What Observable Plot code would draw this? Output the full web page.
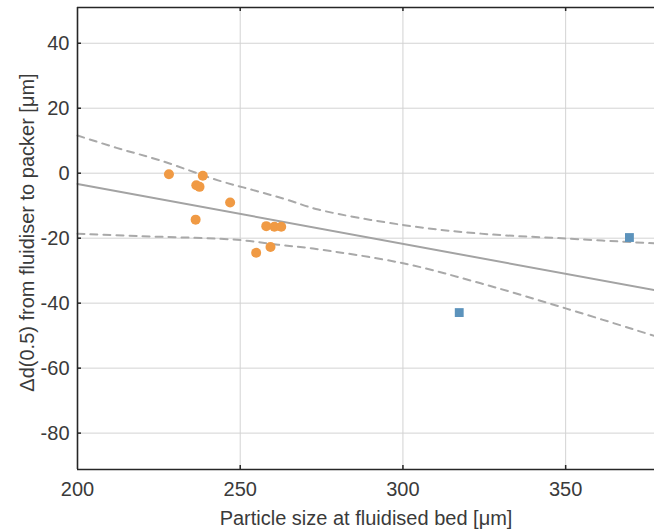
<!DOCTYPE html>
<html>
<head>
<meta charset="utf-8">
<script src="https://cdn.jsdelivr.net/npm/d3@7"></script>
<script src="https://cdn.jsdelivr.net/npm/@observablehq/plot@0.6"></script>
<style>
  html, body { margin: 0; padding: 0; background: #fff; }
  #chart svg { display: block; }
</style>
</head>
<body>
<div id="chart"></div>
<script>
// Axis extents and ticks
const xDomain = [200, 377.3];
const yDomain = [-91.2, 51.0];
const xTicks = [200, 250, 300, 350];
const xGrid = [250, 300, 350];
const yTicks = [-80, -60, -40, -20, 0, 20, 40];

// Orange circles
const orangeX = [228.1, 238.5, 236.5, 237.5, 246.9, 236.3, 258.0, 260.5, 262.6, 254.9, 259.3];
const orangeY = [-0.3, -0.8, -3.7, -4.2, -9.0, -14.3, -16.3, -16.5, -16.5, -24.5, -22.7];

// Blue squares
const blueX = [317.3, 369.6];
const blueY = [-42.9, -19.8];

// Fitted line
const fitX = [200, 377.3];
const fitY = [-3.3, -36.0];

// Upper dashed bound
const upperX = [200, 212, 225.5, 243.2, 254, 264.2, 274, 300.4, 323.9, 350, 377.3];
const upperY = [11.6, 7.8, 3.9, -2.2, -5.2, -8.1, -11.2, -16.0, -18.6, -20.1, -21.6];

// Lower dashed bound
const lowerX = [200, 219.6, 236, 250.3, 261.6, 272.4, 300.4, 323.9, 350, 377.3];
const lowerY = [-18.6, -19.4, -19.9, -20.6, -22.0, -23.2, -27.8, -33.9, -41.6, -50.1];

const xLabel = "Particle size at fluidised bed [\u03BCm]";
const yLabel = "\u0394d(0.5) from fluidiser to packer [\u03BCm]";

const zip = (xs, ys) => xs.map((x, i) => ({x, y: ys[i]}));
const orange = zip(orangeX, orangeY);
const blue = zip(blueX, blueY);
const fit = zip(fitX, fitY);
const upper = zip(upperX, upperY);
const lower = zip(lowerX, lowerY);

const axisColor = "#262626";
const textColor = "#3a3a3a";
const fs = 20;

const chart = Plot.plot({
  width: 654,
  height: 530,
  marginLeft: 77,
  marginRight: 0,
  marginTop: 7,
  marginBottom: 61,
  style: {fontFamily: "'Liberation Sans', Arial, sans-serif", fontSize: fs + "px", color: textColor, background: "#fff"},
  x: {domain: xDomain, label: null},
  y: {domain: yDomain, label: null},
  marks: [
    // grid
    Plot.ruleX(xGrid, {stroke: "#d3d3d3", strokeWidth: 1}),
    Plot.ruleY(yTicks, {stroke: "#d3d3d3", strokeWidth: 1}),
    // axes (labels only)
    Plot.axisX(xTicks, {tickSize: 0, tickPadding: 12, fontSize: fs, fill: textColor, tickFormat: d => `${d}`}),
    Plot.axisY(yTicks, {tickSize: 0, tickPadding: 8, fontSize: fs, fill: textColor, tickFormat: d => `${d}`}),
    // confidence bounds
    Plot.line(upper, {x: "x", y: "y", curve: "catmull-rom", stroke: "#a9a9a9", strokeWidth: 2, strokeDasharray: "7,6"}),
    Plot.line(lower, {x: "x", y: "y", curve: "catmull-rom", stroke: "#a9a9a9", strokeWidth: 2, strokeDasharray: "7,6"}),
    // fit line
    Plot.line(fit, {x: "x", y: "y", stroke: "#a3a3a3", strokeWidth: 2}),
    // data points
    Plot.dot(orange, {x: "x", y: "y", r: 5, fill: "#f09a44", stroke: "none"}),
    Plot.dot(blue, {x: "x", y: "y", r: 5, symbol: "square", fill: "#5c93bc", stroke: "none"}),
    // frame (top, bottom, left)
    Plot.ruleY([yDomain[0], yDomain[1]], {stroke: axisColor, strokeWidth: 1.6}),
    Plot.ruleX([xDomain[0]], {stroke: axisColor, strokeWidth: 1.6}),
    // inward ticks
    Plot.ruleX(xGrid, {x: d => d, y1: yDomain[0], y2: yDomain[0], insetTop: -4, stroke: axisColor, strokeWidth: 1.5}),
    Plot.ruleX(xGrid, {x: d => d, y1: yDomain[1], y2: yDomain[1], insetBottom: -4, stroke: axisColor, strokeWidth: 1.5}),
    Plot.ruleY(yTicks, {y: d => d, x1: xDomain[0], x2: xDomain[0], insetRight: -4, stroke: axisColor, strokeWidth: 1.5}),
    // axis titles
    Plot.text([xLabel], {frameAnchor: "bottom", textAnchor: "middle", dy: 49, lineAnchor: "middle", fontSize: fs, fill: textColor}),
    Plot.text([yLabel], {frameAnchor: "left", textAnchor: "middle", dx: -50, dy: -6, rotate: -90, lineAnchor: "middle", fontSize: fs, fill: textColor})
  ]
});
document.getElementById("chart").appendChild(chart);
</script>
</body>
</html>
